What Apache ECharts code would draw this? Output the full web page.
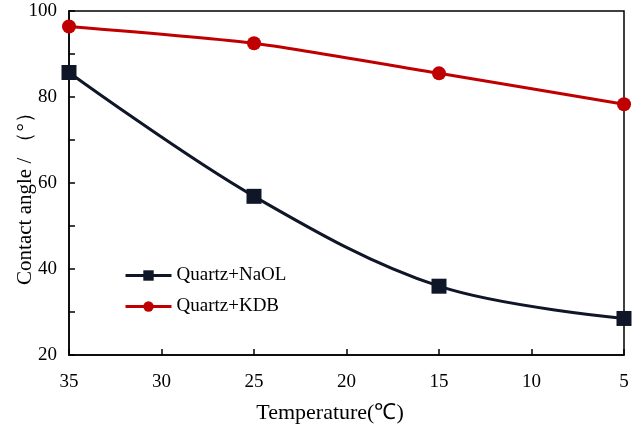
<!DOCTYPE html>
<html><head><meta charset="utf-8">
<script src="https://cdn.jsdelivr.net/npm/echarts@6/dist/echarts.min.js"></script>
<style>html,body{margin:0;padding:0;background:#fff}#c{width:633px;height:431px}</style>
</head><body><div id="c"></div>
<script>
const temperatures = [35, 25, 15, 5];
const naolValues = [85.7, 56.9, 36.0, 28.5];
const kdbValues = [96.4, 92.5, 85.5, 78.3];
const seriesNames = ['Quartz+NaOL', 'Quartz+KDB'];
const xTicks = [35, 30, 25, 20, 15, 10, 5];
const yTicks = [20, 40, 60, 80, 100];

const font = 'Liberation Serif';
const colors = ['#0f1628', '#c00000'];
const chart = echarts.init(document.getElementById('c'));
chart.setOption({
  animation: false,
  textStyle: {fontFamily: font},
  grid: {left: 69, right: 9, top: 11, bottom: 76, show: true, borderColor: '#000', borderWidth: 1.5,
    containLabel: false, outerBoundsMode: 'none'},
  legend: {
    orient: 'vertical', left: 119, top: 261, itemGap: 12, itemWidth: 46, itemHeight: 13,
    textStyle: {fontFamily: font, fontSize: 19, color: '#000'},
    data: seriesNames.map((n, i) => ({name: n, lineStyle: {width: 3, color: colors[i]}}))
  },
  xAxis: {
    type: 'value', inverse: true, min: 5, max: 35, interval: 5,
    name: 'Temperature(℃)\u3000\u2002', nameLocation: 'middle', nameGap: 47,
    nameMoveOverlap: false,
    nameTextStyle: {fontFamily: font, fontSize: 22, color: '#000'},
    axisLine: {lineStyle: {color: '#000', width: 1.5}},
    axisTick: {inside: true, length: 6, lineStyle: {color: '#000', width: 1.5}},
    axisLabel: {fontFamily: font, fontSize: 19, color: '#000', margin: 18,
      formatter: v => xTicks.includes(v) ? String(v) : ''},
    splitLine: {show: false}
  },
  yAxis: {
    type: 'value', min: 20, max: 100, interval: 20,
    name: 'Contact angle / （°）\u3000', nameLocation: 'middle', nameGap: 33, nameRotate: 90,
    nameMoveOverlap: false,
    nameTextStyle: {fontFamily: font, fontSize: 21, color: '#000'},
    axisLine: {show: true, lineStyle: {color: '#000', width: 1.5}},
    axisTick: {inside: true, length: 6, lineStyle: {color: '#000', width: 1.5}},
    minorTick: {show: true, splitNumber: 2, length: 6, lineStyle: {color: '#000', width: 1.5}},
    axisLabel: {fontFamily: font, fontSize: 19, color: '#000', margin: 12,
      formatter: v => yTicks.includes(v) ? String(v) : ''},
    splitLine: {show: false}
  },
  series: [
    {
      name: seriesNames[0], type: 'line', smooth: 0.35,
      data: temperatures.map((t, i) => [t, naolValues[i]]),
      symbol: 'rect', symbolSize: 15,
      lineStyle: {color: colors[0], width: 3},
      itemStyle: {color: colors[0]}
    },
    {
      name: seriesNames[1], type: 'line', smooth: 0.2,
      data: temperatures.map((t, i) => [t, kdbValues[i]]),
      symbol: 'circle', symbolSize: 14,
      lineStyle: {color: colors[1], width: 3},
      itemStyle: {color: colors[1]}
    }
  ]
});
</script></body></html>
